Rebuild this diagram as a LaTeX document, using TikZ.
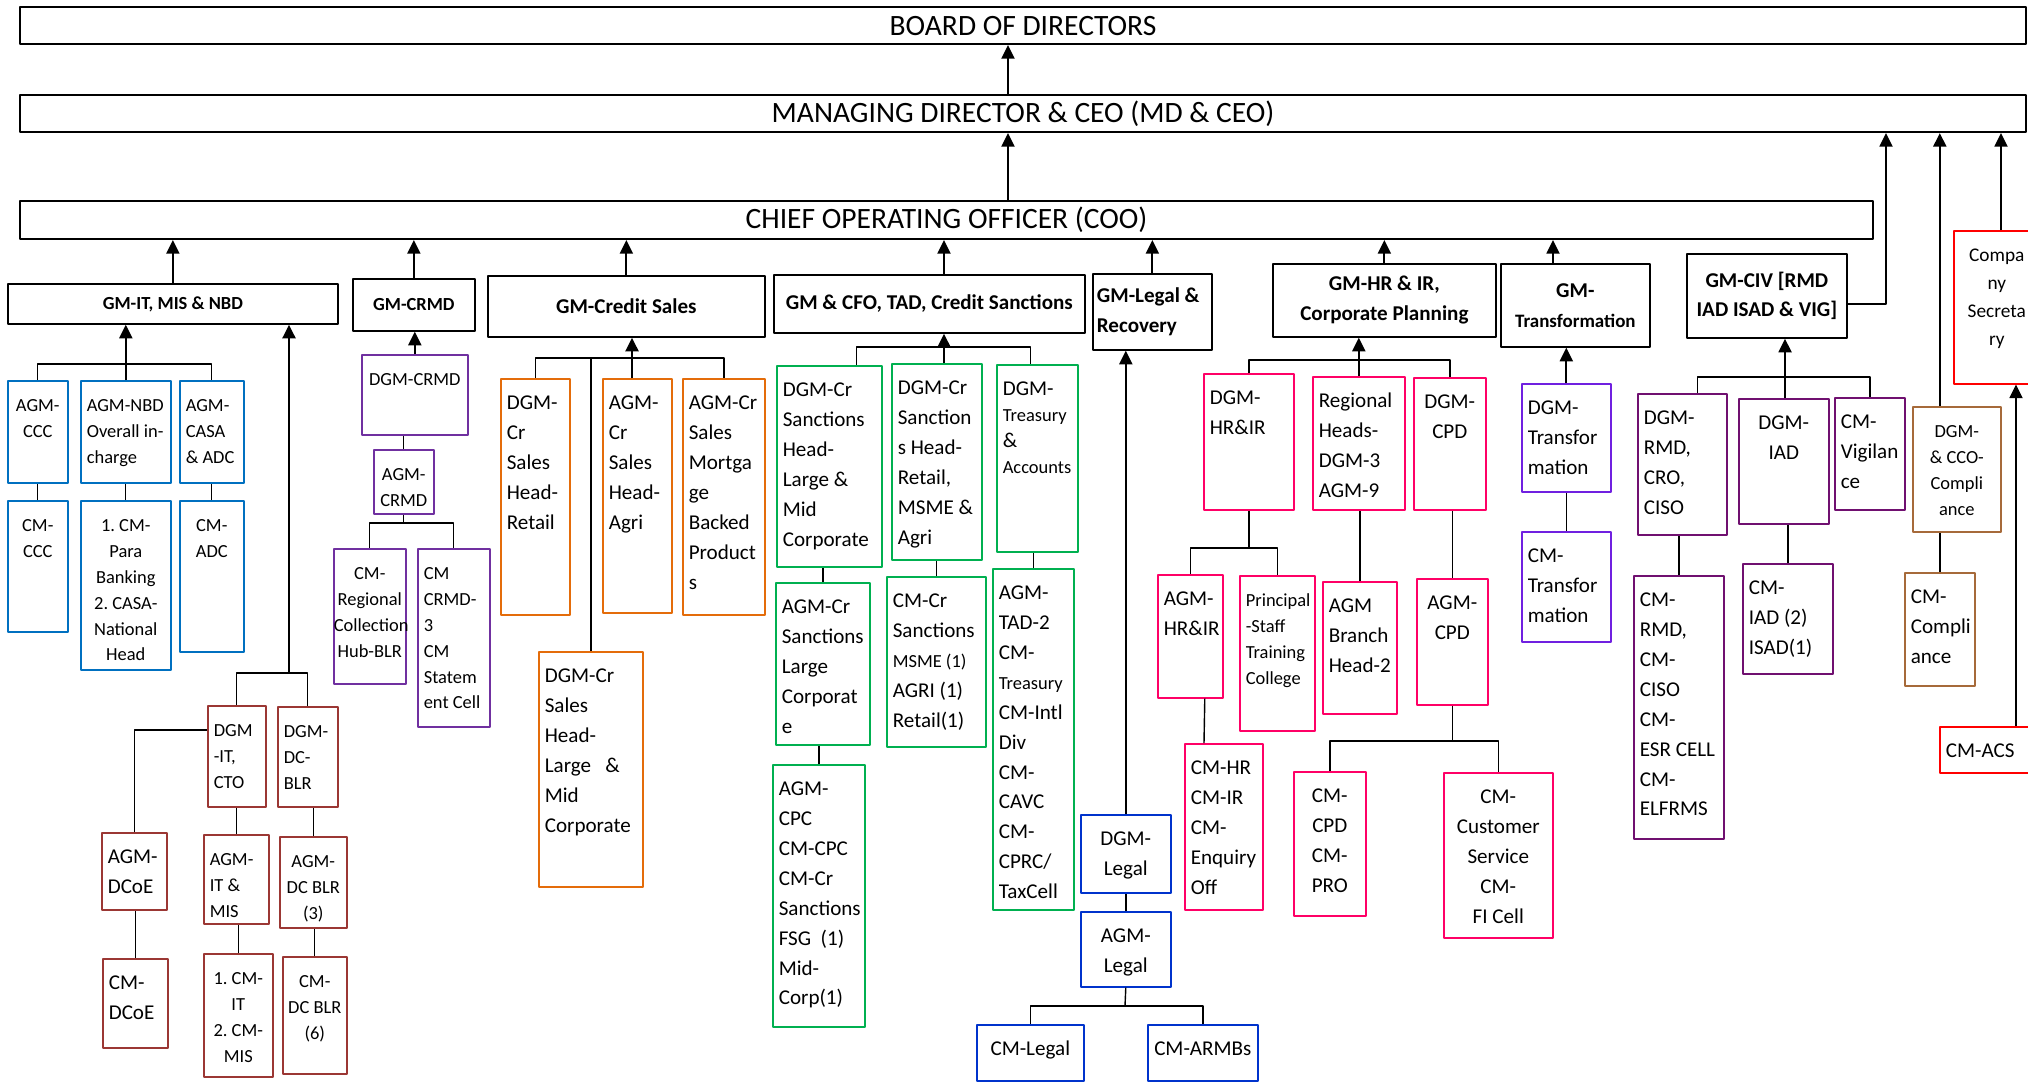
\documentclass[tikz,border=0pt]{standalone}
\usepackage{fontspec}
\setmainfont{Carlito}
\usetikzlibrary{arrows.meta}
\newlength{\pxu}\setlength{\pxu}{0.02cm}
\definecolor{itblue}{RGB}{0,112,192}
\definecolor{itred}{RGB}{155,55,52}
\definecolor{crmdpur}{RGB}{112,48,160}
\definecolor{csorange}{RGB}{228,108,10}
\definecolor{cfogreen}{RGB}{0,176,80}
\definecolor{legblue}{RGB}{0,51,204}
\definecolor{hrpink}{RGB}{255,0,102}
\definecolor{trviolet}{RGB}{112,32,224}
\definecolor{civpur}{RGB}{112,16,112}
\definecolor{ccobrown}{RGB}{166,106,58}
\definecolor{csred}{RGB}{255,0,0}
\newcommand{\cell}[4][t]{\parbox[c][#3\pxu][#1]{#2\pxu}{#4}}
\newcommand{\lft}{\raggedright\leftskip=6\pxu\rule{0pt}{31\pxu}}
\newcommand{\ctr}{\centering\rule{0pt}{31\pxu}}
\newcommand{\smallfnt}{\fontsize{10.5}{14.7}\selectfont}
\begin{document}
\begin{tikzpicture}[x=0.02cm, y=-0.02cm, line join=round, line width=0.8pt,
  >={Triangle[length=0.27cm,width=0.26cm]},
  body/.style={font=\fontsize{12}{17}\selectfont},
  small/.style={font=\smallfnt},
  dept/.style={draw=#1, line width=0.9pt, inner sep=0pt, anchor=north west, body},
  gmbox/.style={draw, line width=1pt, inner sep=0pt, anchor=north west, font=\fontsize{12}{17}\selectfont\bfseries},
  topbox/.style={draw, line width=1.2pt, inner sep=0pt, anchor=north west, font=\fontsize{16.8}{20}\selectfont},
  arr/.style={->, line width=1.1pt}]
\useasboundingbox (0,0) rectangle (2028,1082);
\fill[white] (0,0) rectangle (2028,1082);
\clip (0,0) rectangle (2028,1082);

\node[topbox] (board) at (19,6) {\cell[c]{2006}{37}{\centering BOARD OF DIRECTORS}};
\node[topbox] (md) at (19,94) {\cell[c]{2006}{37}{\centering MANAGING DIRECTOR \& CEO (MD \& CEO)}};
\node[topbox] (coo) at (19,200) {\cell[c]{1853}{38}{\centering CHIEF OPERATING OFFICER (COO)}};

\node[gmbox, font=\fontsize{10.5}{14.7}\selectfont\bfseries] (gmit) at (7,283) {\cell[c]{330}{40}{\centering GM-IT, MIS \& NBD}};
\node[gmbox, font=\fontsize{10.5}{14.7}\selectfont\bfseries] (gmcrmd) at (352,278) {\cell[c]{122}{52}{\centering GM-CRMD}};
\node[gmbox] (gmcs) at (487,275) {\cell[c]{277}{61}{\centering GM-Credit Sales}};
\node[gmbox] (gmcfo) at (773,274) {\cell[c]{311}{58}{\centering GM \& CFO, TAD, Credit Sanctions}};
\node[gmbox] (gmlegal) at (1092,273) {\cell[c]{119}{76}{\raggedright\leftskip=4\pxu GM-Legal~\&\\Recovery}};
\node[gmbox] (gmhr) at (1272,263) {\cell[c]{223}{73}{\centering GM-HR \& IR,\\Corporate Planning}};
\node[gmbox] (gmtr) at (1500,263) {\cell[c]{149}{83}{\centering GM-\\{\fontsize{10.8}{15}\selectfont Transformation}}};
\node[gmbox] (gmciv) at (1686,253) {\cell[c]{160}{84}{\centering GM-CIV [RMD\\IAD ISAD \& VIG]}};
\node[dept=csred, font=\fontsize{11}{15.9}\selectfont] (cs) at (1953,230) {\cell{86}{153}{\ctr Compa\\ny\\Secreta\\ry}};

\node[dept=itblue, small] (ccc) at (7,380) {\cell{60}{102}{\ctr AGM-\\CCC}};
\node[dept=itblue, small] (nbd) at (80,380) {\cell{90}{102}{\lft AGM-NBD\\Overall~in-\\charge}};
\node[dept=itblue, small] (casa) at (179,380) {\cell{64}{102}{\lft AGM-\\CASA\\\&~ADC}};
\node[dept=itblue, small] (cmccc) at (7,500) {\cell{60}{131}{\ctr CM-\\CCC}};
\node[dept=itblue, small] (para) at (80,500) {\cell{90}{169}{\ctr 1.~CM-\\Para\\Banking\\2.~CASA-\\National\\Head}};
\node[dept=itblue, small] (cmadc) at (179,500) {\cell{64}{151}{\ctr CM-\\ADC}};

\node[dept=itred, small] (dgmit) at (207,705) {\cell{58}{101}{\lft DGM\\-IT,\\CTO}};
\node[dept=itred, small] (dgmdc) at (277,706) {\cell{60}{100}{\lft DGM-\\DC-\\BLR}};
\node[dept=itred] (agmdcoe) at (101,832) {\cell{65}{77}{\lft AGM-\\DCoE}};
\node[dept=itred] (cmdcoe) at (102,958) {\cell{65}{89}{\lft CM-\\DCoE}};
\node[dept=itred, small] (agmitmis) at (203,834) {\cell{65}{89}{\lft AGM-\\IT~\&\\MIS}};
\node[dept=itred, small] (cmit) at (203,953) {\cell{69}{123}{\ctr 1.~CM-\\IT\\2.~CM-\\MIS}};
\node[dept=itred, small] (agmdcblr) at (279,836) {\cell{67}{91}{\ctr AGM-\\DC~BLR\\(3)}};
\node[dept=itred, small] (cmdcblr) at (282,956) {\cell{64}{117}{\ctr CM-\\DC~BLR\\(6)}};

\node[dept=crmdpur, small] (dgmcrmd) at (361,354) {\cell{106}{80}{\ctr DGM-CRMD}};
\node[dept=crmdpur, small] (agmcrmd) at (373,449) {\cell{60}{64}{\ctr AGM-\\CRMD}};
\node[dept=crmdpur, small] (cmreg) at (333,548) {\cell{72}{135}{\ctr CM-\\Regional\\Collection\\Hub-BLR}};
\node[dept=crmdpur, small] (cmcrmd3) at (417,548) {\cell{72}{178}{\lft CM\\CRMD-\\3\\CM\\Statem\\ent~Cell}};

\node[dept=csorange] (dgmcsr) at (500,378) {\cell{69}{236}{\lft DGM-\\Cr\\Sales\\Head-\\Retail}};
\node[dept=csorange] (agmcsa) at (602,378) {\cell{69}{234}{\lft AGM-\\Cr\\Sales\\Head-\\Agri}};
\node[dept=csorange] (agmcsm) at (682,378) {\cell{82}{236}{\lft AGM-Cr\\Sales\\Mortga\\ge\\Backed\\Product\\s}};
\node[dept=csorange] (dgmcsl) at (538,651) {\cell{104}{235}{\lft DGM-Cr\\Sales\\Head-\\Large~~~\&\\Mid\\Corporate}};

\node[dept=cfogreen] (dgmsanl) at (776,365) {\cell{105}{201}{\lft DGM-Cr\\Sanctions\\Head-\\Large~\&\\Mid\\Corporate}};
\node[dept=cfogreen] (dgmsanr) at (891,363) {\cell{90}{196}{\lft DGM-Cr\\Sanction\\s~Head-\\Retail,\\MSME~\&\\Agri}};
\node[dept=cfogreen, small] (dgmtrs) at (996,364) {\cell{81}{187}{\lft {\fontsize{12}{17}\selectfont DGM-}\\Treasury\\{\fontsize{12}{17}\selectfont\&}\\Accounts}};
\node[dept=cfogreen] (agmsanl) at (775,582) {\cell{94}{162}{\lft AGM-Cr\\Sanctions\\Large\\Corporat\\e}};
\node[dept=cfogreen] (cmsan) at (886,576) {\cell{99}{170}{\lft CM-Cr\\Sanctions\\{\smallfnt MSME~(1)}\\AGRI~(1)\\Retail(1)}};
\node[dept=cfogreen] (agmtad) at (992,568) {\cell{81}{341}{\lft AGM-\\TAD-2\\CM-\\{\smallfnt Treasury}\\CM-Intl\\Div\\CM-\\CAVC\\CM-\\CPRC/\\TaxCell}};
\node[dept=cfogreen] (agmcpc) at (772,764) {\cell{92}{262}{\lft AGM-\\CPC\\CM-CPC\\CM-Cr\\Sanctions\\FSG~~(1)\\Mid-\\Corp(1)}};

\node[dept=legblue] (dgmlegal) at (1080,814) {\cell{90}{78}{\ctr DGM-\\Legal}};
\node[dept=legblue] (agmlegal) at (1080,911) {\cell{90}{75}{\ctr AGM-\\Legal}};
\node[dept=legblue] (cmlegal) at (976,1024) {\cell{107}{56}{\ctr CM-Legal}};
\node[dept=legblue] (cmarmbs) at (1147,1024) {\cell{110}{56}{\ctr CM-ARMBs}};

\node[dept=hrpink] (dgmhr) at (1203,373) {\cell{90}{136}{\lft DGM-\\HR\&IR}};
\node[dept=hrpink] (reghd) at (1312,376) {\cell{92}{133}{\lft Regional\\Heads-\\DGM-3\\AGM-9}};
\node[dept=hrpink] (dgmcpd) at (1413,377) {\cell{72}{132}{\ctr DGM-\\CPD}};
\node[dept=hrpink] (agmhr) at (1157,574) {\cell{65}{123}{\lft AGM-\\HR\&IR}};
\node[dept=hrpink, small] (principal) at (1239,575) {\cell{75}{155}{\lft Principal\\-Staff\\Training\\College}};
\node[dept=hrpink] (agmbr) at (1322,581) {\cell{74}{132}{\lft AGM\\Branch\\Head-2}};
\node[dept=hrpink] (agmcpd) at (1416,578) {\cell{71}{126}{\ctr AGM-\\CPD}};
\node[dept=hrpink] (cmhr) at (1184,743) {\cell{78}{166}{\lft CM-HR\\CM-IR\\CM-\\Enquiry\\Off}};
\node[dept=hrpink] (cmcpd) at (1293,771) {\cell{72}{144}{\ctr CM-\\CPD\\CM-\\PRO}};
\node[dept=hrpink] (cmcust) at (1443,772) {\cell{109}{165}{\ctr CM-\\Customer\\Service\\CM-\\FI~Cell}};

\node[dept=trviolet] (dgmtr) at (1521,383) {\cell{89}{108}{\lft DGM-\\Transfor\\mation}};
\node[dept=trviolet] (cmtr) at (1521,531) {\cell{89}{110}{\lft CM-\\Transfor\\mation}};

\node[dept=civpur] (dgmrmd) at (1637,393) {\cell{89}{141}{\lft DGM-\\RMD,\\CRO,\\CISO}};
\node[dept=civpur] (dgmiad) at (1738,398) {\cell{90}{125}{\ctr DGM-\\IAD}};
\node[dept=civpur] (cmvig) at (1834,397) {\cell{70}{112}{\lft CM-\\Vigilan\\ce}};
\node[dept=civpur] (cmrmd) at (1633,575) {\cell{90}{263}{\lft CM-\\RMD,\\CM-\\CISO\\CM-\\ESR~CELL\\CM-\\ELFRMS}};
\node[dept=civpur] (cmiad) at (1742,563) {\cell{90}{110}{\lft CM-\\IAD~(2)\\ISAD(1)}};

\node[dept=ccobrown, small] (dgmcco) at (1912,406) {\cell{88}{125}{\ctr DGM-\\\&~CCO-\\Compli\\ance}};
\node[dept=ccobrown] (cmcomp) at (1904,572) {\cell{70}{113}{\lft CM-\\Compli\\ance}};
\node[dept=csred] (cmacs) at (1939,726) {\cell{96}{46}{\lft CM-ACS}};

\coordinate (spine) at (1008,0);
\coordinate (cfox) at (944,347);
\coordinate (trx) at (1553,0);
\coordinate (civ) at (1886,304);
\coordinate (csx) at (2001,0);
\coordinate (acsx) at (2016,0);
\coordinate (itbar) at (123,364);
\coordinate (itdown) at (289,673);
\coordinate (dcoe) at (0,730);
\coordinate (crmdbar) at (407,523);
\coordinate (csbar) at (632,358);
\coordinate (legbar) at (1125,1006);
\coordinate (hrbar) at (1358,360);
\coordinate (hrsub) at (1243,548);
\coordinate (cpdbar) at (1452,741);
\coordinate (civbar) at (1785,377);

\draw[arr] (md.north -| spine) -- (board.south -| spine);
\draw[arr] (coo.north -| spine) -- (md.south -| spine);
\foreach \g in {gmit,gmcrmd,gmcs,gmlegal,gmhr}
  \draw[arr] (\g.north) -- (\g.north |- coo.south);
\draw[arr] (gmcfo.north -| cfox) -- (coo.south -| cfox);
\draw[arr] (gmtr.north -| trx) -- (coo.south -| trx);
\draw[arr] (gmciv.east |- civ) -- (civ) -- (civ |- md.south);
\draw[arr] (dgmcco.north -| cmcomp.north) -- (md.south -| cmcomp.north);
\draw[arr] (cs.north -| csx) -- (md.south -| csx);
\draw[arr] (cmacs.north -| acsx) -- (cs.south -| acsx);

\draw[arr] (nbd.north) -- (nbd.north |- gmit.south);
\draw[arr] (itdown) -- (itdown |- gmit.south);
\draw[arr] (dgmcrmd.north) -- (dgmcrmd.north |- gmcrmd.south);
\draw[arr] (agmcsa.north -| csbar) -- (gmcs.south -| csbar);
\draw[arr] (dgmsanr.north -| cfox) -- (gmcfo.south -| cfox);
\draw[arr] (dgmlegal.north) -- (dgmlegal.north |- gmlegal.south);
\draw[arr] (reghd.north) -- (reghd.north |- gmhr.south);
\draw[arr] (dgmtr.north) -- (dgmtr.north |- gmtr.south);
\draw[arr] (dgmiad.north -| civbar) -- (gmciv.south -| civbar);

\draw (ccc.north) |- (itbar) -| (casa.north);
\draw (dgmit.north) |- (itdown) -| (dgmdc.north);
\draw (dgmit.west |- dcoe) -| (agmdcoe.north);
\draw (agmcrmd.south) -- (agmcrmd.south |- crmdbar);
\draw (cmreg.north) |- (crmdbar) -| (cmcrmd3.north);
\draw (dgmcsr.north) |- (csbar) -| (agmcsm.north);
\draw (dgmcsl.north) -- (dgmcsl.north |- csbar);
\draw ([xshift=0.54cm]dgmsanl.north) |- (cfox) -| ([xshift=-0.14cm]dgmtrs.north);
\draw (agmlegal.south) -- (legbar);
\draw (cmlegal.north) |- (legbar) -| (cmarmbs.north);
\draw (dgmhr.north) |- (hrbar) -| (dgmcpd.north);
\draw (dgmhr.south) -- (dgmhr.south |- hrsub);
\draw (agmhr.north) |- (hrsub) -| (principal.north);
\draw ([xshift=0.29cm]agmhr.south) -- ([xshift=0.4cm]cmhr.north west);
\draw (agmcpd.south) -- (agmcpd.south |- cpdbar);
\draw (cmcpd.north) |- (cpdbar) -| (cmcust.north);
\draw ([xshift=0.3cm]dgmrmd.north) |- (civbar) -| (cmvig.north);
\foreach \a/\b in {ccc/cmccc, nbd/para, casa/cmadc, agmdcoe/cmdcoe, dgmit/agmitmis, agmitmis/cmit,
  dgmdc/agmdcblr, agmdcblr/cmdcblr, dgmcrmd/agmcrmd, dgmsanl/agmsanl, dgmsanr/cmsan, dgmtrs/agmtad,
  agmsanl/agmcpc, dgmlegal/agmlegal, reghd/agmbr, dgmcpd/agmcpd, dgmtr/cmtr, dgmrmd/cmrmd,
  dgmiad/cmiad, dgmcco/cmcomp}
  \draw (\b.north) -- (\b.north |- \a.south);
\end{tikzpicture}
\end{document}
